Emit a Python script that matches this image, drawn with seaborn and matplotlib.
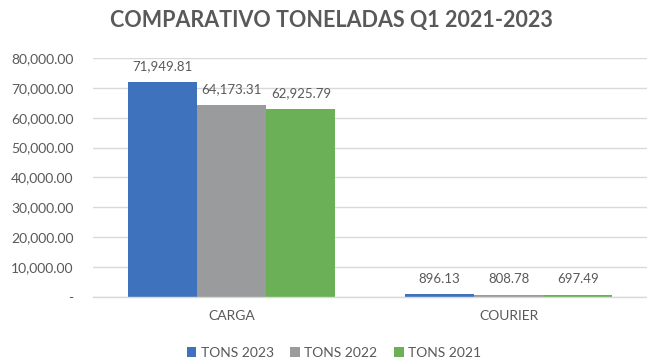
import matplotlib
matplotlib.use("Agg")
import matplotlib.pyplot as plt
import seaborn as sns
import pandas as pd
from matplotlib.ticker import FuncFormatter, FixedLocator

categories = ["CARGA", "COURIER"]
series_names = ["TONS 2023", "TONS 2022", "TONS 2021"]
tons_2023 = [71949.81, 896.13]
tons_2022 = [64173.31, 808.78]
tons_2021 = [62925.79, 697.49]
y_ticks = [0, 10000, 20000, 30000, 40000, 50000, 60000, 70000, 80000]

colors = ["#3F72BD", "#999B9C", "#6BB057"]
text_color = "#595959"
grid_color = "#D9D9D9"

rows = []
for name, vals in zip(series_names, [tons_2023, tons_2022, tons_2021]):
    for cat, v in zip(categories, vals):
        rows.append({"categoria": cat, "serie": name, "toneladas": v})
df = pd.DataFrame(rows)

sns.set_theme(style="white")
plt.rcParams["font.family"] = ["Lato", "DejaVu Sans"]

fig = plt.figure(figsize=(6.47, 3.6), dpi=100)
ax = fig.add_axes([0.144, 0.175, 0.856, 0.664])

sns.barplot(data=df, x="categoria", y="toneladas", hue="serie",
            hue_order=series_names, order=categories, palette=colors,
            width=0.75, gap=0, saturation=1, ax=ax, legend=True,
            edgecolor="none", linewidth=0)

ax.set_ylim(0, 80000)
ax.set_xlim(-0.5, 1.5)
ax.yaxis.set_major_locator(FixedLocator(y_ticks))
ax.yaxis.set_major_formatter(FuncFormatter(
    lambda v, p: "-" if v == 0 else f"{v:,.2f}"))
ax.grid(axis="y", color=grid_color, linewidth=1)
ax.set_axisbelow(True)
for s in ["top", "right", "left"]:
    ax.spines[s].set_visible(False)
ax.spines["bottom"].set_color(grid_color)
ax.spines["bottom"].set_linewidth(1)

ax.tick_params(axis="y", length=0, labelsize=10, labelcolor=text_color, pad=14)
ax.tick_params(axis="x", which="major", length=0, labelsize=10,
               labelcolor=text_color, pad=9)
ax.set_xticks([-0.5, 0.5, 1.5], minor=True)
ax.tick_params(axis="x", which="minor", length=5, color=grid_color, width=1)
ax.set_xlabel("")
ax.set_ylabel("")

for container in ax.containers:
    labels = [f"{b.get_height():,.2f}" for b in container]
    ax.bar_label(container, labels=labels, padding=7, fontsize=9.5,
                 color=text_color)

handles, labels = ax.get_legend_handles_labels()
ax.get_legend().remove()
fig.legend(handles, labels, loc="center", bbox_to_anchor=(0.516, 0.02),
           ncol=3, frameon=False, fontsize=10, labelcolor=text_color,
           handlelength=0.7, handleheight=0.7, handletextpad=0.3,
           columnspacing=1.2, borderaxespad=0, borderpad=0)

fig.text(0.513, 0.943, "COMPARATIVO TONELADAS Q1 2021-2023", ha="center",
         va="center", fontsize=15.5, fontweight="bold", color=text_color)

fig.savefig("out.png", dpi=100)
